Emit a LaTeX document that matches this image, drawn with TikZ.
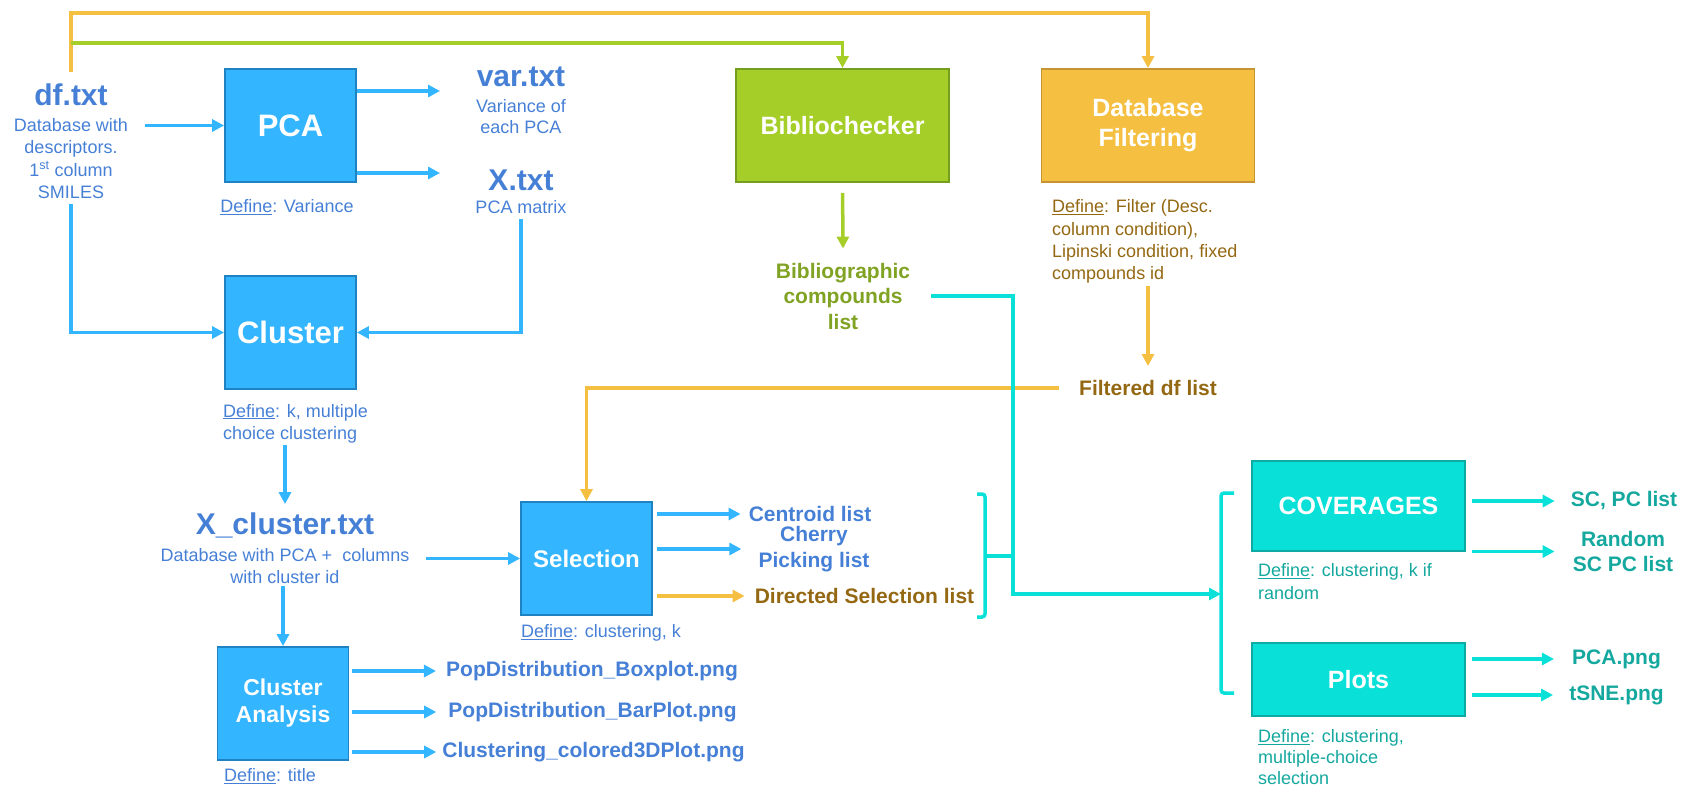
\documentclass[tikz,border=0pt]{standalone}
\usepackage{fontspec}
\setmainfont{Liberation Sans}
\usepackage{tikz}
\usetikzlibrary{arrows.meta}

\definecolor{boxblue}{RGB}{51,181,255}
\definecolor{boxblueedge}{RGB}{30,130,195}
\definecolor{txtblue}{RGB}{70,128,214}
\definecolor{boxgreen}{RGB}{165,207,40}
\definecolor{boxgreenedge}{RGB}{118,158,30}
\definecolor{txtgreen}{RGB}{128,163,35}
\definecolor{boxorange}{RGB}{245,192,66}
\definecolor{boxorangeedge}{RGB}{198,148,48}
\definecolor{txtbrown}{RGB}{148,104,18}
\definecolor{boxcyan}{RGB}{8,224,216}
\definecolor{boxcyanedge}{RGB}{14,170,164}
\definecolor{txtcyan}{RGB}{20,168,158}

\newcommand{\defline}{\underline{Define}:}

\tikzset{
	box/.style={draw, line width=1.8pt, text=white, align=center, inner sep=0pt,
		minimum width=131pt, minimum height=113pt, font=\bfseries\fontsize{25}{30}\selectfont},
	bluebox/.style={box, fill=boxblue, draw=boxblueedge},
	greenbox/.style={box, fill=boxgreen, draw=boxgreenedge, minimum width=213pt},
	orangebox/.style={box, fill=boxorange, draw=boxorangeedge, minimum width=213pt},
	cyanbox/.style={box, fill=boxcyan, draw=boxcyanedge, minimum width=213pt},
	title/.style={inner sep=2pt, text=txtblue, font=\bfseries\fontsize{30}{32}\selectfont},
	desc/.style={inner sep=2pt, align=center, font=\fontsize{18}{22.3}\selectfont},
	outname/.style={inner sep=2pt, align=center, font=\bfseries\fontsize{21}{25.5}\selectfont},
	link/.style={line width=3.5pt},
	tip/.style={-{Triangle[length=12pt,width=12pt]}},
	bluearrow/.style={link, tip, boxblue},
	orangearrow/.style={link, tip, boxorange},
	cyanarrow/.style={link, tip, boxcyan},
}

\begin{document}
\begin{tikzpicture}[x=1pt,y=-1pt]
	\useasboundingbox (0,0) rectangle (1682,790);

	\node[title] (df) at (71,95) {df.txt};
	\node[desc, text=txtblue] (dfdesc) at (71,158.5) {Database with\\descriptors.\\1\textsuperscript{st} column\\SMILES};
	\node[bluebox, font=\bfseries\fontsize{31}{33}\selectfont] (pca) at (290.5,125.5) {PCA};
	\node[desc, text=txtblue] (pcadef) at (287,207) {\defline{} Variance};
	\node[title] (var) at (521,77) {var.txt};
	\node[desc, text=txtblue, font=\fontsize{18}{21}\selectfont] (vardesc) at (521,116.5) {Variance of\\each PCA};
	\node[title] (xtxt) at (521,180) {X.txt};
	\node[desc, text=txtblue] (xdesc) at (521,207) {PCA matrix};

	\node[bluebox, font=\bfseries\fontsize{31}{33}\selectfont] (cluster) at (290.5,332.5) {Cluster};
	\node[desc, text=txtblue, align=left, anchor=west] (clusterdef) at (221,423.5) {\defline{} k, multiple\\choice clustering};
	\node[title] (xcl) at (285,525) {X\_cluster.txt};
	\node[desc, text=txtblue] (xcldesc) at (285,566) {Database with PCA +~ columns\\with cluster id};

	\node[bluebox, font=\bfseries\fontsize{23}{27}\selectfont] (clan) at (283,703.5) {Cluster\\Analysis};
	\node[desc, text=txtblue, anchor=west] (cladef) at (222,776) {\defline{} title};
	\node[outname, text=txtblue] (boxplot) at (592,671) {PopDistribution\_Boxplot.png};
	\node[outname, text=txtblue] (barplot) at (592.5,712) {PopDistribution\_BarPlot.png};
	\node[outname, text=txtblue] (plot3d) at (593.5,752) {Clustering\_colored3DPlot.png};

	\node[bluebox, font=\bfseries\fontsize{24}{28}\selectfont] (sel) at (586.5,558.5) {Selection};
	\node[desc, text=txtblue, anchor=west] (seldef) at (519,633) {\defline{} clustering, k};
	\node[outname, text=txtblue] (cent) at (810,514) {Centroid list};
	\node[outname, text=txtblue] (cherry) at (814,549) {Cherry\\Picking list};
	\node[outname, text=txtbrown] (dirsel) at (864.5,596) {Directed Selection list};

	\node[greenbox] (biblio) at (842.5,125.5) {Bibliochecker};
	\node[outname, text=txtgreen] (biblist) at (843,296) {Bibliographic\\compounds\\list};

	\node[orangebox] (dbf) at (1148,125.5) {Database\\Filtering};
	\node[desc, text=txtbrown, align=left, anchor=west] (dbfdef) at (1050,241.5) {\defline{} Filter (Desc.\\column condition),\\Lipinski condition, fixed\\compounds id};
	\node[outname, text=txtbrown] (filt) at (1148,388) {Filtered df list};

	\node[cyanbox, minimum height=90pt] (cov) at (1358.5,506) {COVERAGES};
	\node[desc, text=txtcyan, align=left, anchor=west] (covdef) at (1256,581.5) {\defline{} clustering, k if\\random};
	\node[cyanbox, minimum height=73pt] (plots) at (1358.5,679.5) {Plots};
	\node[desc, text=txtcyan, align=left, anchor=west, font=\fontsize{18}{21.3}\selectfont] (plotsdef) at (1256,757) {\defline{} clustering,\\multiple-choice\\selection};
	\node[outname, text=txtcyan] (sc) at (1624,501) {SC, PC list};
	\node[outname, text=txtcyan] (rand) at (1623,551.5) {Random\\SC PC list};
	\node[outname, text=txtcyan] (pcapng) at (1616.5,659) {PCA.png};
	\node[outname, text=txtcyan] (tsne) at (1616.5,695) {tSNE.png};

	\coordinate (orangerail) at (0,13);
	\coordinate (greenrail) at (0,43);
	\coordinate (dfout) at (145,125.5);
	\coordinate (varin) at (440,91);
	\coordinate (xin) at (440,173);
	\coordinate (sbrk) at (985,556);
	\coordinate (bend) at (1013,594);
	\coordinate (cbrk) at (1221,594);

	\draw[link, boxorange, tip] ([yshift=10pt]df.north) -- (df.north |- orangerail) -| (dbf.north);
	\draw[link, boxgreen, tip] (df.north |- greenrail) -| (biblio.north);

	\draw[bluearrow] (dfout) -- (pca.west);
	\draw[bluearrow] (pca.east |- varin) -- (varin);
	\draw[bluearrow] (pca.east |- xin) -- (xin);
	\draw[bluearrow, shorten <=3pt] (dfdesc.south) |- (cluster.west);
	\draw[bluearrow, shorten <=3pt] (xdesc.south) |- (cluster.east);
	\draw[bluearrow] (xcl.north |- clusterdef.south) -- ([yshift=6pt]xcl.north);
	\draw[bluearrow] (clan.north |- xcldesc.south) -- (clan.north);
	\draw[bluearrow, shorten <=14pt] (xcldesc.east |- sel.west) -- (sel.west);
	\draw[bluearrow, shorten <=3pt] (clan.east |- boxplot) -- ([xshift=-8pt]boxplot.west);
	\draw[bluearrow, shorten <=3pt] (clan.east |- barplot) -- ([xshift=-10pt]barplot.west);
	\draw[bluearrow, shorten <=3pt] (clan.east |- plot3d) -- ([xshift=-4pt]plot3d.west);

	\draw[bluearrow, shorten <=4pt] (sel.east |- cent) -- ([xshift=-6pt]cent.west);
	\draw[bluearrow, shorten <=4pt] (sel.east |- cherry) -- ([xshift=-15pt]cherry.west);
	\draw[orangearrow, shorten <=4pt] (sel.east |- dirsel) -- ([xshift=-8pt]dirsel.west);

	\draw[link, boxgreen, tip, shorten <=10pt] (biblio.south) -- ([yshift=12pt]biblist.north);
	\draw[link, boxorange, tip] (filt.north |- dbfdef.south) -- ([yshift=12pt]filt.north);
	\draw[link, boxorange, tip] ([xshift=-18pt]filt.west) -| (sel.north);

	\draw[link, boxcyan, rounded corners=3pt] (sbrk) ++(-8,-62) -- ++(8,0) -- ++(0,123) -- ++(-8,0);
	\draw[link, boxcyan] (sbrk) -- (sbrk -| bend);
	\draw[link, boxcyan, tip, shorten <=19pt] (biblist.east) -| (bend) -- (cbrk);
	\draw[link, boxcyan, rounded corners=3pt] (cbrk) ++(13,-101) -- ++(-13,0) -- ++(0,200) -- ++(13,0);

	\draw[cyanarrow, shorten <=6pt] (cov.east |- sc) -- ([xshift=-14pt]sc.west);
	\draw[cyanarrow, shorten <=6pt] (cov.east |- rand) -- ([xshift=-16pt]rand.west);
	\draw[cyanarrow, shorten <=6pt] (plots.east |- pcapng) -- ([xshift=-16pt]pcapng.west);
	\draw[cyanarrow, shorten <=6pt] (plots.east |- tsne) -- ([xshift=-14pt]tsne.west);
\end{tikzpicture}
\end{document}
